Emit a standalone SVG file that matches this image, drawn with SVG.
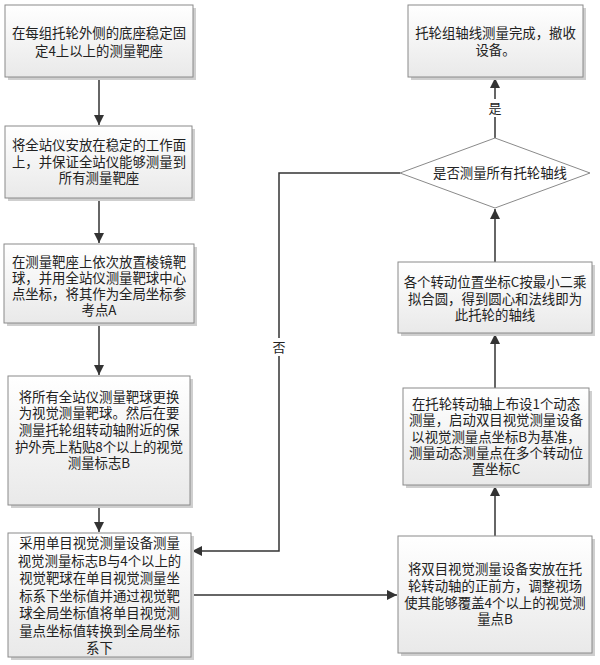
<svg xmlns="http://www.w3.org/2000/svg" width="600" height="665" viewBox="0 0 600 665">
<defs>
<linearGradient id="g" x1="0" y1="0" x2="0" y2="1">
<stop offset="0" stop-color="#ffffff"/>
<stop offset="1" stop-color="#e9e9e9"/>
</linearGradient>
<marker id="ah" markerWidth="12" markerHeight="12" refX="10" refY="5" orient="auto" markerUnits="userSpaceOnUse">
<path d="M0,0 L10,5 L0,10 Z" fill="#333"/>
</marker>
<style>
.box{fill:url(#g);stroke:#8a8a8a;stroke-width:1}
.sh{fill:#cfcfcf}
.t{font-family:"Noto Sans CJK SC","Liberation Sans",sans-serif;font-size:13.4px;fill:#222;text-anchor:middle}
.c{stroke:#333;stroke-width:1.5;fill:none}
.lbl{font-family:"Noto Sans CJK SC","Liberation Sans",sans-serif;font-size:13px;fill:#222;text-anchor:middle}
</style>
</defs>
<rect width="600" height="665" fill="#fff"/>
<g id="connectors">
<line class="c" x1="99" y1="77" x2="99" y2="125" marker-end="url(#ah)"/>
<line class="c" x1="99" y1="198" x2="99" y2="243" marker-end="url(#ah)"/>
<line class="c" x1="99" y1="323" x2="99" y2="375" marker-end="url(#ah)"/>
<line class="c" x1="99" y1="505" x2="99" y2="532" marker-end="url(#ah)"/>
<line class="c" x1="191" y1="595" x2="397" y2="595" marker-end="url(#ah)"/>
<line class="c" x1="495" y1="536" x2="495" y2="486" marker-end="url(#ah)"/>
<line class="c" x1="495" y1="388" x2="495" y2="334" marker-end="url(#ah)"/>
<line class="c" x1="495" y1="262" x2="495" y2="209" marker-end="url(#ah)"/>
<line class="c" x1="495" y1="138" x2="495" y2="78" marker-end="url(#ah)"/>
<polyline class="c" points="400,173 279,173 279,551 192,551" marker-end="url(#ah)"/>
<rect x="487" y="99" width="16" height="18" fill="#fff"/>
<text class="lbl" x="495" y="113">是</text>
<rect x="271" y="338" width="16" height="18" fill="#fff"/>
<text class="lbl" x="279" y="352">否</text>
</g>
<g id="n1">
<rect class="sh" x="8" y="8" width="188" height="72"/>
<rect class="box" x="5" y="5" width="188" height="72"/>
<text class="t" x="99" y="38">在每组托轮外侧的底座稳定固</text>
<text class="t" x="99" y="56">定4上以上的测量靶座</text>
</g>
<g id="n2">
<rect class="sh" x="8" y="129" width="187" height="72"/>
<rect class="box" x="5" y="126" width="187" height="72"/>
<text class="t" x="99" y="150">将全站仪安放在稳定的工作面</text>
<text class="t" x="99" y="167">上，并保证全站仪能够测量到</text>
<text class="t" x="99" y="183">所有测量靶座</text>
</g>
<g id="n3">
<rect class="sh" x="7" y="247" width="190" height="79"/>
<rect class="box" x="4" y="244" width="190" height="79"/>
<text class="t" x="99" y="267">在测量靶座上依次放置棱镜靶</text>
<text class="t" x="99" y="283">球，并用全站仪测量靶球中心</text>
<text class="t" x="99" y="299">点坐标，将其作为全局坐标参</text>
<text class="t" x="99" y="315">考点A</text>
</g>
<g id="n4">
<rect class="sh" x="11" y="379" width="182" height="129"/>
<rect class="box" x="8" y="376" width="182" height="129"/>
<text class="t" x="99" y="402">将所有全站仪测量靶球更换</text>
<text class="t" x="99" y="418">为视觉测量靶球。然后在要</text>
<text class="t" x="99" y="435">测量托轮组转动轴附近的保</text>
<text class="t" x="99" y="452">护外壳上粘贴8个以上的视觉</text>
<text class="t" x="99" y="468">测量标志B</text>
</g>
<g id="n5">
<rect class="sh" x="11" y="536" width="183" height="124"/>
<rect class="box" x="8" y="533" width="183" height="124"/>
<text class="t" x="99.5" y="548">采用单目视觉测量设备测量</text>
<text class="t" x="99.5" y="565.5">视觉测量标志B与4个以上的</text>
<text class="t" x="99.5" y="583">视觉靶球在单目视觉测量坐</text>
<text class="t" x="99.5" y="600.5">标系下坐标值并通过视觉靶</text>
<text class="t" x="99.5" y="618">球全局坐标值将单目视觉测</text>
<text class="t" x="99.5" y="635.5">量点坐标值转换到全局坐标</text>
<text class="t" x="99.5" y="653">系下</text>
</g>
<g id="n6">
<rect class="sh" x="401" y="539" width="194" height="117"/>
<rect class="box" x="398" y="536" width="194" height="117"/>
<text class="t" x="495" y="574">将双目视觉测量设备安放在托</text>
<text class="t" x="495" y="591">轮转动轴的正前方，调整视场</text>
<text class="t" x="495" y="608">使其能够覆盖4个以上的视觉测</text>
<text class="t" x="495" y="624">量点B</text>
</g>
<g id="n7">
<rect class="sh" x="406" y="391" width="186" height="97"/>
<rect class="box" x="403" y="388" width="186" height="97"/>
<text class="t" x="496" y="409">在托轮转动轴上布设1个动态</text>
<text class="t" x="496" y="425.3">测量，启动双目视觉测量设备</text>
<text class="t" x="496" y="441.6">以视觉测量点坐标B为基准，</text>
<text class="t" x="496" y="458">测量动态测量点在多个转动位</text>
<text class="t" x="496" y="474">置坐标C</text>
</g>
<g id="n8">
<rect class="sh" x="401" y="265" width="194" height="71"/>
<rect class="box" x="398" y="262" width="194" height="71"/>
<text class="t" x="495" y="287">各个转动位置坐标C按最小二乘</text>
<text class="t" x="495" y="304">拟合圆，得到圆心和法线即为</text>
<text class="t" x="495" y="320">此托轮的轴线</text>
</g>
<g id="n9">
<polygon points="495,138 590,173 495,208 400,173" fill="#fff" stroke="#8a8a8a" stroke-width="1"/>
<text class="t" x="500" y="178">是否测量所有托轮轴线</text>
</g>
<g id="n10">
<rect class="sh" x="411" y="8" width="175" height="72"/>
<rect class="box" x="408" y="5" width="175" height="72"/>
<text class="t" x="495.5" y="38">托轮组轴线测量完成，撤收</text>
<text class="t" x="495.5" y="55">设备。</text>
</g>
</svg>
